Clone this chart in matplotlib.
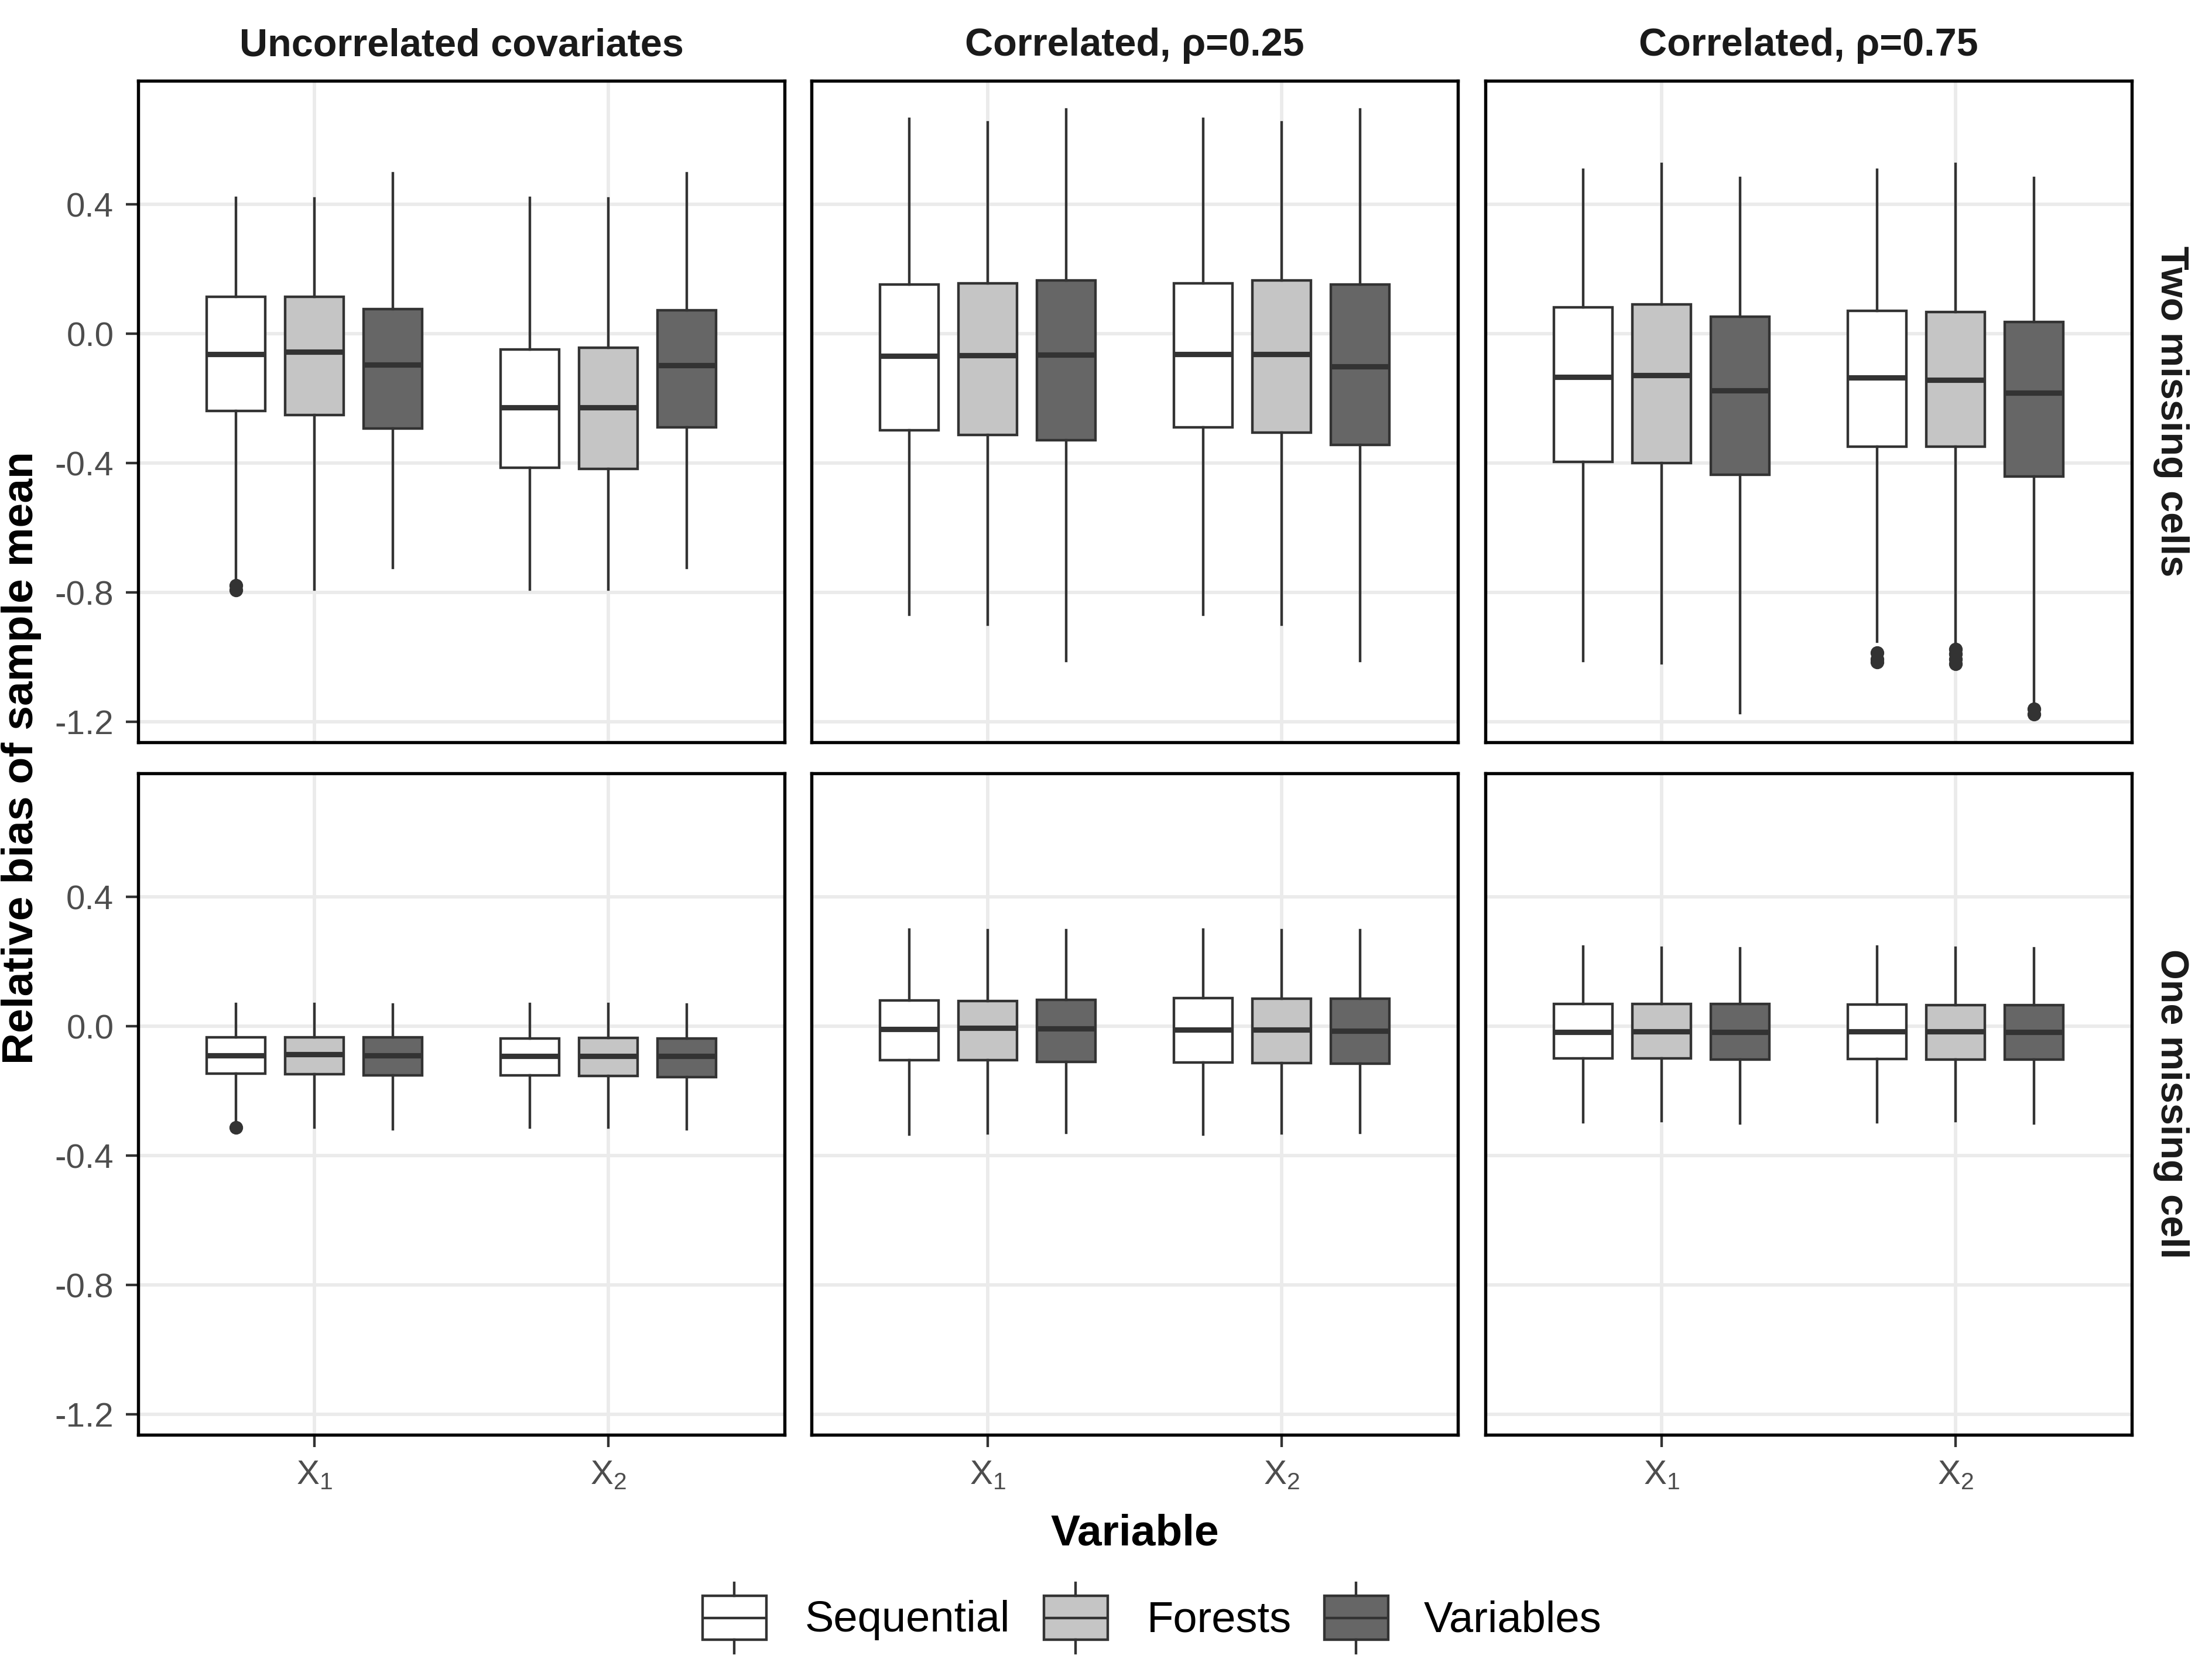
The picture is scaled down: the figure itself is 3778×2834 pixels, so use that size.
import matplotlib
matplotlib.use("Agg")
import matplotlib.pyplot as plt
from matplotlib.patches import Rectangle

plt.rcParams['font.family'] = ['Liberation Sans', 'DejaVu Sans']
plt.rcParams['mathtext.fontset'] = 'custom'
plt.rcParams['mathtext.rm'] = 'Liberation Sans'
plt.rcParams['mathtext.it'] = 'Liberation Sans:italic'
plt.rcParams['mathtext.bf'] = 'Liberation Sans:bold'

# ---------------- data ----------------
methods = ['Sequential', 'Forests', 'Variables']
method_fill = ['#FFFFFF', '#C5C5C5', '#666666']
variables = [r'$\mathregular{X_1}$', r'$\mathregular{X_2}$']
col_labels = ['Uncorrelated covariates', 'Correlated, \u03c1=0.25', 'Correlated, \u03c1=0.75']
row_labels = ['Two missing cells', 'One missing cell']

# each panel: 6 boxes ordered (X1: Seq, For, Var, X2: Seq, For, Var)
# panels ordered: row0 col0, row0 col1, row0 col2, row1 col0, row1 col1, row1 col2
whisker_low = [
    [-0.765, -0.790, -0.723, -0.790, -0.790, -0.723],
    [-0.868, -0.899, -1.011, -0.868, -0.899, -1.011],
    [-1.011, -1.018, -1.172, -0.951, -0.969, -1.145],
    [-0.300, -0.313, -0.317, -0.313, -0.313, -0.317],
    [-0.335, -0.331, -0.329, -0.335, -0.331, -0.329],
    [-0.296, -0.292, -0.299, -0.296, -0.292, -0.299],
]
quart1 = [
    [-0.238, -0.250, -0.292, -0.414, -0.418, -0.288],
    [-0.298, -0.312, -0.329, -0.289, -0.306, -0.344],
    [-0.396, -0.399, -0.436, -0.348, -0.349, -0.441],
    [-0.146, -0.148, -0.151, -0.152, -0.154, -0.157],
    [-0.104, -0.104, -0.109, -0.112, -0.114, -0.116],
    [-0.098, -0.098, -0.103, -0.100, -0.103, -0.103],
]
median = [
    [-0.063, -0.055, -0.096, -0.228, -0.228, -0.097],
    [-0.068, -0.066, -0.064, -0.062, -0.063, -0.100],
    [-0.134, -0.128, -0.174, -0.135, -0.142, -0.182],
    [-0.089, -0.087, -0.089, -0.091, -0.091, -0.092],
    [-0.009, -0.005, -0.007, -0.010, -0.010, -0.014],
    [-0.018, -0.016, -0.018, -0.016, -0.016, -0.018],
]
quart3 = [
    [0.115, 0.114, 0.077, -0.049, -0.042, 0.073],
    [0.153, 0.157, 0.165, 0.157, 0.165, 0.153],
    [0.083, 0.091, 0.054, 0.072, 0.067, 0.037],
    [-0.033, -0.033, -0.033, -0.037, -0.035, -0.037],
    [0.080, 0.078, 0.082, 0.088, 0.085, 0.085],
    [0.070, 0.070, 0.070, 0.068, 0.066, 0.066],
]
whisker_high = [
    [0.421, 0.418, 0.496, 0.421, 0.418, 0.496],
    [0.664, 0.654, 0.694, 0.664, 0.654, 0.694],
    [0.508, 0.526, 0.482, 0.508, 0.526, 0.482],
    [0.069, 0.069, 0.067, 0.069, 0.069, 0.067],
    [0.299, 0.298, 0.298, 0.299, 0.298, 0.298],
    [0.246, 0.244, 0.242, 0.246, 0.244, 0.242],
]
outliers = [
    [[-0.778, -0.792], [], [], [], [], []],
    [[], [], [], [], [], []],
    [[], [], [], [-0.985, -1.005, -1.015], [-0.975, -0.990, -1.005, -1.020], [-1.160, -1.175]],
    [[-0.313], [], [], [], [], []],
    [[], [], [], [], [], []],
    [[], [], [], [], [], []],
]
y_ticks = [-1.2, -0.8, -0.4, 0.0, 0.4]

# ---------------- layout ----------------
W, H = 3779, 2834
DPI = 300
fig = plt.figure(figsize=(W / DPI, H / DPI), dpi=DPI)
fig.patch.set_facecolor('white')

col_left = [236, 1386, 2537]
row_top = [138, 1321]
pw, ph = 1104, 1130

LINE = '#333333'
dodge = 0.8
bw = 0.2

def fx(px):
    return px / W

def fy(py):
    return 1 - py / H

for r in range(2):
    for c in range(3):
        p = r * 3 + c
        ax = fig.add_axes([fx(col_left[c]), fy(row_top[r] + ph), pw / W, ph / H])
        ax.set_xlim(0.4, 2.6)
        ax.set_ylim(-1.2625, 0.7825)
        ax.set_yticks(y_ticks)
        ax.set_xticks([1, 2])
        ax.grid(True, color='#EBEBEB', linewidth=1.4, zorder=0)
        ax.set_axisbelow(True)
        for s in ax.spines.values():
            s.set_color('black')
            s.set_linewidth(1.3)
            s.set_zorder(5)

        stats, pos, fills = [], [], []
        for v in range(2):
            for m in range(3):
                i = v * 3 + m
                stats.append(dict(whislo=whisker_low[p][i], q1=quart1[p][i], med=median[p][i],
                                  q3=quart3[p][i], whishi=whisker_high[p][i],
                                  fliers=outliers[p][i]))
                pos.append(v + 1 + (m - 1) * dodge / 3)
                fills.append(method_fill[m])
        bp = ax.bxp(stats, positions=pos, widths=bw, patch_artist=True, showcaps=False,
                    boxprops=dict(edgecolor=LINE, linewidth=1.05),
                    whiskerprops=dict(color=LINE, linewidth=1.05),
                    medianprops=dict(color=LINE, linewidth=2.2, solid_capstyle='butt'),
                    flierprops=dict(marker='o', markerfacecolor=LINE, markeredgecolor=LINE,
                                    markersize=4.6, linestyle='none'),
                    manage_ticks=False, zorder=3)
        for patch, f in zip(bp['boxes'], fills):
            patch.set_facecolor(f)

        ax.tick_params(axis='both', length=5, width=1.05, color=LINE, pad=5,
                       labelsize=14, labelcolor='#4D4D4D')
        if c == 0:
            ax.set_yticklabels(['%.1f' % t for t in y_ticks])
        else:
            ax.tick_params(axis='y', left=False, labelleft=False)
        if r == 1:
            ax.set_xticklabels(variables)
        else:
            ax.tick_params(axis='x', bottom=False, labelbottom=False)

# strip labels
for c in range(3):
    fig.text(fx(col_left[c] + pw / 2), fy(95), col_labels[c], ha='center', va='baseline',
             fontsize=16, fontweight='bold', color='#1A1A1A')
for r in range(2):
    fig.text(fx(3708), fy(row_top[r] + ph / 2), row_labels[r], ha='center', va='center',
             rotation=270, fontsize=16, fontweight='bold', color='#1A1A1A')

# axis titles
fig.text(fx(37), fy((row_top[0] + row_top[1] + ph) / 2), 'Relative bias of sample mean',
         rotation=90, ha='center', va='center', fontsize=18, fontweight='bold', color='black')
fig.text(fx((col_left[0] + col_left[2] + pw) / 2), fy(2640), 'Variable', ha='center', va='baseline',
         fontsize=18, fontweight='bold', color='black')

# legend
lax = fig.add_axes([0, 0, 1, 1])
lax.set_xlim(0, W)
lax.set_ylim(H, 0)
lax.axis('off')
key_left = [1200, 1783, 2262]
text_left = [1375, 1959, 2432]
kw, k_top, k_bot, k_med, w_top, w_bot = 109, 2726, 2801, 2764, 2704, 2824
for m in range(3):
    x0 = key_left[m]
    lax.add_patch(Rectangle((x0, k_top), kw, k_bot - k_top, facecolor=method_fill[m],
                            edgecolor=LINE, linewidth=1.05))
    lax.plot([x0, x0 + kw], [k_med, k_med], color=LINE, linewidth=1.05, solid_capstyle='butt')
    lax.plot([x0 + kw / 2] * 2, [w_top, k_top], color=LINE, linewidth=1.05)
    lax.plot([x0 + kw / 2] * 2, [k_bot, w_bot], color=LINE, linewidth=1.05)
    lax.text(text_left[m], k_med + 4, methods[m], ha='left', va='center', fontsize=17.8, color='black')

fig.savefig('out.png', dpi=DPI, facecolor='white')
